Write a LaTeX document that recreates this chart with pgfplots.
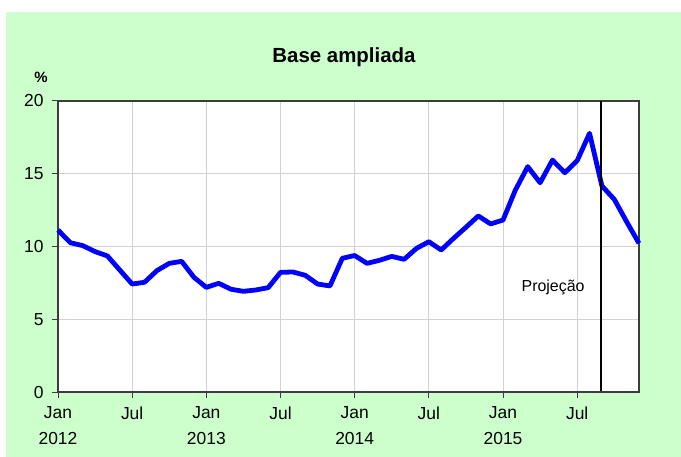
\documentclass[border=0pt]{standalone}
\usepackage{fontspec}
\setmainfont{Liberation Sans}
\usepackage{pgfplots}
\pgfplotsset{compat=1.18}
\definecolor{bggreen}{RGB}{204,255,204}
\definecolor{gridgray}{RGB}{210,210,210}
\definecolor{axisgray}{RGB}{60,60,60}
\begin{document}
\begin{tikzpicture}
\path[use as bounding box] (0,0) rectangle (681bp,457bp);
\fill[white] (0,0) rectangle (681bp,457bp);
\fill[bggreen] (6bp,0) rectangle (681bp,445bp);
\node[font=\fontsize{20.5}{24}\selectfont\bfseries] at (344bp,400bp) {Base ampliada};
\node[font=\fontsize{15}{18}\selectfont\bfseries] at (41bp,380bp) {\%};
\begin{axis}[
  at={(58bp,65bp)}, anchor=south west,
  scale only axis, width=581bp, height=291bp,
  xmin=0, xmax=47, ymin=0, ymax=20,
  xtick={0,6,12,18,24,30,36,42},
  xticklabels={{Jan\\2012},{Jul},{Jan\\2013},{Jul},{Jan\\2014},{Jul},{Jan\\2015},{Jul}},
  ytick={0,5,10,15,20},
  /pgf/number format/assume math mode=true,
  tick pos=left, tick align=outside, major tick length=6bp,
  tick style={axisgray, line width=1pt},
  grid=major, major grid style={gridgray, line width=1pt},
  axis line style={axisgray, line width=1.2pt},
  axis background/.style={fill=white},
  xticklabel style={align=center, font=\fontsize{17.5}{26.5}\selectfont, yshift=-5bp},
  yticklabel style={font=\fontsize{17.5}{20}\selectfont, xshift=-5bp},
  clip=false,
]
\addplot[blue, line width=4.8bp, line join=round] coordinates {
(0,11.13) (1,10.26) (2,10.06) (3,9.65) (4,9.35) (5,8.38) (6,7.42) (7,7.54)
(8,8.34) (9,8.84) (10,8.98) (11,7.88) (12,7.19) (13,7.47) (14,7.06) (15,6.92)
(16,7.01) (17,7.17) (18,8.22) (19,8.25) (20,8.02) (21,7.42) (22,7.29) (23,9.19)
(24,9.38) (25,8.84) (26,9.05) (27,9.32) (28,9.12) (29,9.87) (30,10.33) (31,9.76)
(32,10.56) (33,11.32) (34,12.10) (35,11.55) (36,11.82) (37,13.88) (38,15.49) (39,14.38)
(40,15.94) (41,15.07) (42,15.90) (43,17.78) (44,14.16) (45,13.24) (46,11.70) (47,10.22)
};
\addplot[black, line width=1.8bp] coordinates {(43.9,20) (43.9,0.1)};
\node[font=\fontsize{16}{19}\selectfont] at (axis cs:40.05,7.2) {Projeção};
\end{axis}
\end{tikzpicture}
\end{document}
